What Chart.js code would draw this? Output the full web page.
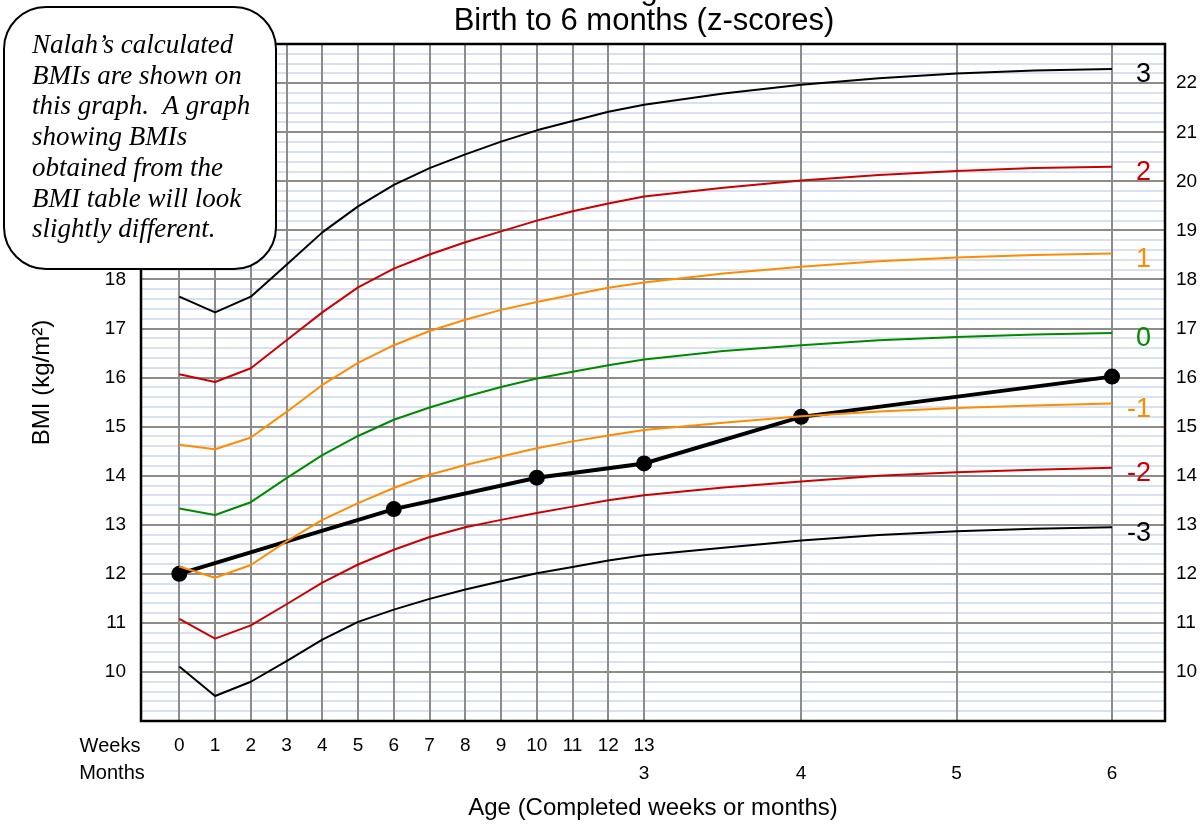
<!DOCTYPE html>
<html lang="en">
<head>
<meta charset="UTF-8">
<title>BMI-for-age GIRLS - Birth to 6 months (z-scores)</title>
<script src="https://cdn.jsdelivr.net/npm/chart.js"></script>
<style>
    html, body { margin: 0; padding: 0; background: #ffffff; }
    #wrap { width: 1202px; height: 827px; }
</style>
</head>
<body>
<div id="wrap"><canvas id="bmiChart" width="1202" height="827"></canvas></div>

<script>
    // ages of the reference curves: every week up to 13 weeks, then by month
    const curveWeeks = [0, 1, 2, 3, 4, 5, 6, 7, 8, 9, 10, 11, 12, 13];
    const curveMonths = [3.5, 4, 4.5, 5, 5.5, 6];

    // z-score curves (BMI kg/m2), same order as the ages above
    const sd3    = [17.65, 17.33, 17.65, 18.30, 18.96, 19.49, 19.93, 20.27, 20.55, 20.81, 21.04, 21.23, 21.42, 21.56, 21.79, 21.97, 22.10, 22.20, 22.26, 22.29];
    const sd2    = [16.07, 15.91, 16.19, 16.76, 17.33, 17.84, 18.22, 18.51, 18.76, 18.98, 19.20, 19.39, 19.55, 19.69, 19.87, 20.02, 20.13, 20.21, 20.27, 20.30];
    const sd1    = [14.63, 14.54, 14.78, 15.30, 15.85, 16.30, 16.66, 16.95, 17.18, 17.38, 17.54, 17.69, 17.83, 17.94, 18.12, 18.26, 18.37, 18.45, 18.50, 18.53];
    const sd0    = [13.33, 13.20, 13.46, 13.95, 14.42, 14.81, 15.14, 15.39, 15.61, 15.81, 15.98, 16.12, 16.25, 16.37, 16.54, 16.66, 16.76, 16.83, 16.88, 16.91];
    const sd1neg = [12.15, 11.92, 12.18, 12.66, 13.10, 13.44, 13.75, 14.02, 14.22, 14.39, 14.56, 14.70, 14.82, 14.93, 15.08, 15.21, 15.31, 15.38, 15.43, 15.47];
    const sd2neg = [11.08, 10.68, 10.95, 11.38, 11.82, 12.19, 12.49, 12.75, 12.95, 13.10, 13.24, 13.37, 13.50, 13.60, 13.76, 13.88, 14.00, 14.07, 14.12, 14.16];
    const sd3neg = [10.11, 9.51, 9.80, 10.22, 10.66, 11.02, 11.27, 11.49, 11.68, 11.85, 12.01, 12.14, 12.27, 12.38, 12.53, 12.68, 12.79, 12.87, 12.92, 12.95];

    const zLabels = ['3', '2', '1', '0', '-1', '-2', '-3'];
    const zColors = ['#000000', '#cc0000', '#ff8c00', '#008a00', '#ff8c00', '#cc0000', '#000000'];

    // Nalah's calculated BMIs
    const nalahWeeks = [0, 6, 10, 13];
    const nalahMonths = [4, 6];
    const nalahBmi = [12.0, 13.32, 13.96, 14.25, 15.2, 16.02];

    // axis tick labels
    const weekTicks = [0, 1, 2, 3, 4, 5, 6, 7, 8, 9, 10, 11, 12, 13];
    const monthTicks = [3, 4, 5, 6];
    const bmiTicks = [10, 11, 12, 13, 14, 15, 16, 17, 18, 19, 20, 21, 22];

    const calloutLines = [
        'Nalah\u2019s calculated',
        'BMIs are shown on',
        'this graph.  A graph',
        'showing BMIs',
        'obtained from the',
        'BMI table will look',
        'slightly different.'
    ];

    // x axis runs in days
    const diasSemana = w => w * 7;
    const diasMes = m => m * 30.4375;

    const curveDays = curveWeeks.map(diasSemana).concat(curveMonths.map(diasMes));
    const nalahDays = nalahWeeks.map(diasSemana).concat(nalahMonths.map(diasMes));

    const SANS = "'Liberation Sans', Arial, sans-serif";
    const SERIF = "'Liberation Serif', 'Times New Roman', serif";

    Chart.defaults.color = '#000000';
    Chart.defaults.font.family = SANS;
    Chart.defaults.font.size = 19;

    function isInteiro(v) {
        return Math.abs(v - Math.round(v)) < 1e-6;
    }

    // ticks every 0.2 on the BMI axis (light lines), labels only on whole numbers
    function bmiGridTicks(scale) {
        const t = [];
        for (let k = 0; k <= 69; k++) {
            t.push({ value: Math.round((9 + k * 0.2) * 10) / 10 });
        }
        scale.ticks = t;
    }

    function bmiLabel(value) {
        return isInteiro(value) && bmiTicks.includes(Math.round(value)) ? String(Math.round(value)) : '';
    }

    // week ticks, with the month labels on a second line
    function ageTicks(scale) {
        const t = weekTicks.map(w => ({ value: diasSemana(w), w: String(w), m: '' }));
        monthTicks.forEach(m => {
            const d = diasMes(m);
            const same = t.find(tk => Math.abs(tk.value - d) < 1);
            if (same) {
                same.m = String(m);
            } else {
                t.push({ value: d, w: '', m: String(m) });
            }
        });
        scale.ticks = t;
    }

    const datasets = [sd3, sd2, sd1, sd0, sd1neg, sd2neg, sd3neg].map((serie, i) => ({
        label: 'z ' + zLabels[i],
        data: serie.map((v, k) => ({ x: curveDays[k], y: v })),
        borderColor: zColors[i],
        borderWidth: 2,
        pointRadius: 0,
        tension: 0,
        borderJoinStyle: 'round',
        fill: false
    }));

    datasets.push({
        label: 'Nalah',
        data: nalahBmi.map((v, k) => ({ x: nalahDays[k], y: v })),
        borderColor: '#000000',
        backgroundColor: '#000000',
        borderWidth: 4,
        pointRadius: 8,
        pointBackgroundColor: '#000000',
        pointBorderWidth: 0,
        tension: 0,
        fill: false
    });

    const desenhos = {
        id: 'desenhos',
        afterDatasetsDraw(chart) {
            const ctx = chart.ctx;
            ctx.save();
            ctx.font = '27px ' + SANS;
            ctx.textAlign = 'right';
            ctx.textBaseline = 'middle';
            for (let i = 0; i < zLabels.length; i++) {
                const pts = chart.getDatasetMeta(i).data;
                const last = pts[pts.length - 1];
                ctx.fillStyle = zColors[i];
                ctx.fillText(zLabels[i], last.x + 39, last.y + 6);
            }
            ctx.restore();
        },
        afterDraw(chart) {
            const ctx = chart.ctx;
            const a = chart.chartArea;
            const x = chart.scales.x;
            ctx.save();

            // frame of the plot
            ctx.strokeStyle = '#000000';
            ctx.lineWidth = 2.5;
            ctx.strokeRect(a.left, a.top, a.right - a.left, a.bottom - a.top);

            // title (first line falls off the top of the picture)
            ctx.fillStyle = '#000000';
            ctx.textAlign = 'center';
            ctx.textBaseline = 'alphabetic';
            ctx.font = '31px ' + SANS;
            ctx.fillText('BMI-for-age GIRLS', 644, -1);
            ctx.fillText('Birth to 6 months (z-scores)', 644, 30);

            // row names of the age axis
            ctx.font = '20px ' + SANS;
            ctx.textBaseline = 'middle';
            ctx.fillText('Weeks', 110, x.top + 11 + 14);
            ctx.fillText('Months', 112, x.top + 11 + 41);

            // callout box
            const bx = 4, by = 7, bw = 272, bh = 262, r = 42;
            ctx.beginPath();
            ctx.moveTo(bx + r, by);
            ctx.lineTo(bx + bw - r, by);
            ctx.arcTo(bx + bw, by, bx + bw, by + r, r);
            ctx.lineTo(bx + bw, by + bh - r);
            ctx.arcTo(bx + bw, by + bh, bx + bw - r, by + bh, r);
            ctx.lineTo(bx + r, by + bh);
            ctx.arcTo(bx, by + bh, bx, by + bh - r, r);
            ctx.lineTo(bx, by + r);
            ctx.arcTo(bx, by, bx + r, by, r);
            ctx.closePath();
            ctx.fillStyle = '#ffffff';
            ctx.fill();
            ctx.lineWidth = 2;
            ctx.strokeStyle = '#000000';
            ctx.stroke();

            ctx.fillStyle = '#000000';
            ctx.textAlign = 'left';
            ctx.textBaseline = 'alphabetic';
            ctx.font = 'italic 27px ' + SERIF;
            calloutLines.forEach((linha, i) => {
                ctx.fillText(linha, 32, 53 + i * 30.7);
            });

            ctx.restore();
        }
    };

    new Chart(document.getElementById('bmiChart'), {
        type: 'line',
        data: { datasets: datasets },
        plugins: [desenhos],
        options: {
            responsive: false,
            animation: false,
            events: [],
            layout: { padding: { top: 44, left: 0, right: 0, bottom: 0 } },
            plugins: {
                legend: { display: false },
                tooltip: { enabled: false },
                title: { display: false }
            },
            scales: {
                y: {
                    type: 'linear',
                    position: 'left',
                    min: 9,
                    max: 22.8,
                    z: -1,
                    afterBuildTicks: bmiGridTicks,
                    afterFit(scale) { scale.width = 141; },
                    ticks: { callback: bmiLabel, autoSkip: false, padding: 15 },
                    grid: {
                        drawTicks: false,
                        color: c => isInteiro(c.tick.value) ? '#8c8c8c' : '#d8e1f1',
                        lineWidth: 2
                    },
                    border: { display: false },
                    title: {
                        display: true,
                        text: 'BMI (kg/m\u00b2)',
                        font: { size: 24 },
                        padding: { top: 28, bottom: 0 }
                    }
                },
                y2: {
                    type: 'linear',
                    position: 'right',
                    min: 9,
                    max: 22.8,
                    z: -1,
                    afterBuildTicks: bmiGridTicks,
                    afterFit(scale) { scale.width = 37; },
                    ticks: { callback: bmiLabel, autoSkip: false, padding: 11 },
                    grid: { display: false, drawTicks: false },
                    border: { display: false }
                },
                x: {
                    type: 'linear',
                    position: 'bottom',
                    min: -7.5,
                    max: 193,
                    z: 0,
                    afterBuildTicks: ageTicks,
                    afterFit(scale) { scale.height = 106; },
                    ticks: {
                        autoSkip: false,
                        maxRotation: 0,
                        padding: 11,
                        font: { size: 19, lineHeight: 1.45 },
                        callback: (value, i, ticks) => [ticks[i].w, ticks[i].m]
                    },
                    grid: { drawTicks: false, color: '#8c8c8c', lineWidth: 2 },
                    border: { display: false },
                    title: {
                        display: true,
                        text: 'Age (Completed weeks or months)',
                        font: { size: 24 },
                        padding: { top: 0, bottom: 4 }
                    }
                }
            }
        }
    });
</script>
</body>
</html>
